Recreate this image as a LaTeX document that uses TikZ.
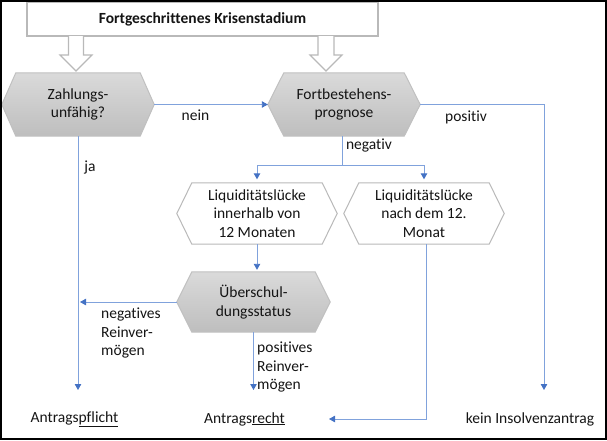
\documentclass[tikz,border=0pt]{standalone}
\usepackage{fontspec}
\setmainfont{Carlito}[Ligatures=NoCommon]
\usetikzlibrary{arrows.meta,calc}
\pgfdeclarelayer{background}
\pgfsetlayers{background,main}
\definecolor{lineblue}{RGB}{128,162,220}
\definecolor{tipblue}{RGB}{68,114,196}
\definecolor{hexborder}{RGB}{192,192,192}
\definecolor{boxborder}{RGB}{185,185,185}
\definecolor{hextop}{RGB}{218,218,218}
\definecolor{hexbot}{RGB}{190,190,190}
\begin{document}
\begin{tikzpicture}[x=1pt,y=-1pt,
  every node/.style={font=\fontsize{15.5}{18.7}\selectfont, text=black!92},
  hexnode/.style={inner sep=0pt, align=center},
  hexgray/.style={draw=hexborder, line width=1pt, top color=hextop, bottom color=hexbot},
  hexwhite/.style={draw=boxborder, line width=1pt, fill=white},
  hollow/.style={draw=boxborder, line width=1.2pt, fill=white},
  conn/.style={draw=lineblue, line width=0.9pt},
  arr/.style={conn, -{Triangle[length=6pt,width=6.5pt,color=tipblue]}},
  lbl/.style={inner sep=0pt, align=left},
]
\useasboundingbox (0,0) rectangle (607,440);

% title
\node[draw=boxborder, line width=1.5pt, minimum width=351pt, minimum height=34pt, inner sep=0pt] (title) at (202.5,19) {\bfseries Fortgeschrittenes Krisenstadium};

% hexagon nodes
\node[hexnode, minimum width=152pt, minimum height=63pt] (zu) at (78,104.5) {Zahlungs-\\unfähig?};
\node[hexnode, minimum width=152pt, minimum height=63pt] (fb) at (344,104.5) {Fortbestehens-\\prognose};
\node[hexnode, minimum width=160pt, minimum height=61pt] (liq1) at (257,213.5) {Liquiditätslücke\\innerhalb von\\12 Monaten};
\node[hexnode, minimum width=160pt, minimum height=61pt] (liq2) at (424,213.5) {Liquiditätslücke\\nach dem 12.\\Monat};
\node[hexnode, minimum width=153pt, minimum height=60pt] (ueb) at (253.5,302) {Überschul-\\dungsstatus};

% outcomes
\node[inner sep=0pt] (pf) at (74.5,419) {Antrags\underline{pflicht}};
\node[inner sep=0pt] (recht) at (244.5,419) {Antrags\underline{recht}};
\node[inner sep=0pt] (kein) at (530,419) {kein Insolvenzantrag};

\begin{pgfonlayer}{background}
\path[hexgray] (zu.west) -- ([xshift=14pt]zu.north west) -- ([xshift=-14pt]zu.north east) -- (zu.east) -- ([xshift=-14pt]zu.south east) -- ([xshift=14pt]zu.south west) -- cycle;
\path[hexgray] (fb.west) -- ([xshift=16pt]fb.north west) -- ([xshift=-16pt]fb.north east) -- (fb.east) -- ([xshift=-16pt]fb.south east) -- ([xshift=16pt]fb.south west) -- cycle;
\path[hexwhite] (liq1.west) -- ([xshift=15pt]liq1.north west) -- ([xshift=-15pt]liq1.north east) -- (liq1.east) -- ([xshift=-15pt]liq1.south east) -- ([xshift=15pt]liq1.south west) -- cycle;
\path[hexwhite] (liq2.west) -- ([xshift=15pt]liq2.north west) -- ([xshift=-15pt]liq2.north east) -- (liq2.east) -- ([xshift=-15pt]liq2.south east) -- ([xshift=15pt]liq2.south west) -- cycle;
\path[hexgray] (ueb.west) -- ([xshift=15pt]ueb.north west) -- ([xshift=-15pt]ueb.north east) -- (ueb.east) -- ([xshift=-15pt]ueb.south east) -- ([xshift=15pt]ueb.south west) -- cycle;
\end{pgfonlayer}

% hollow arrows from title
\path[hollow] (68.5,36) -- (68.5,55) -- (60,55) -- (76,71) -- (92,55) -- (83.5,55) -- (83.5,36);
\path[hollow] (318,36) -- (318,55) -- (310,55) -- (326,71) -- (342,55) -- (334,55) -- (334,36);

% helper coordinates
\coordinate (endrow) at (0,390);
\coordinate (pcorner) at (544,104.5);
\coordinate (split) at (342,165);
\coordinate (rtip) at (329,419);

% connectors
\draw[arr] (zu.east) -- (fb.west);
\draw[arr] (fb.east) -- (pcorner) -- (pcorner |- endrow);
\draw[conn] (split |- fb.south) -- (split);
\draw[arr, shorten >=3.5pt] (split) -| (liq1.north);
\draw[arr, shorten >=3.5pt] (split) -| (liq2.north);
\draw[arr, shorten >=2pt] (liq1.south) -- (liq1.south |- ueb.north);
\draw[arr] (zu.south) -- (zu.south |- endrow);
\draw[arr, shorten >=2pt] (ueb.west) -- (ueb.west -| zu.south);
\draw[arr] (ueb.south) -- (ueb.south |- endrow);
\draw[arr] ([xshift=2pt]liq2.south) |- (rtip);

% labels
\node[lbl] (lnein) at (195.5,115) {nein};
\node[lbl] (lpos) at (466,117) {positiv};
\node[lbl] (lneg) at (369,145) {negativ};
\node[lbl] (lja) at (90,167) {ja};
\node[lbl, anchor=west] (lnegrv) at (101,333) {negatives\\Reinver-\\mögen};
\node[lbl, anchor=west] (lposrv) at (257,367) {positives\\Reinver-\\mögen};

% outer frame
\draw[black, line width=2pt] (1,1) rectangle (606,439);
\end{tikzpicture}
\end{document}
